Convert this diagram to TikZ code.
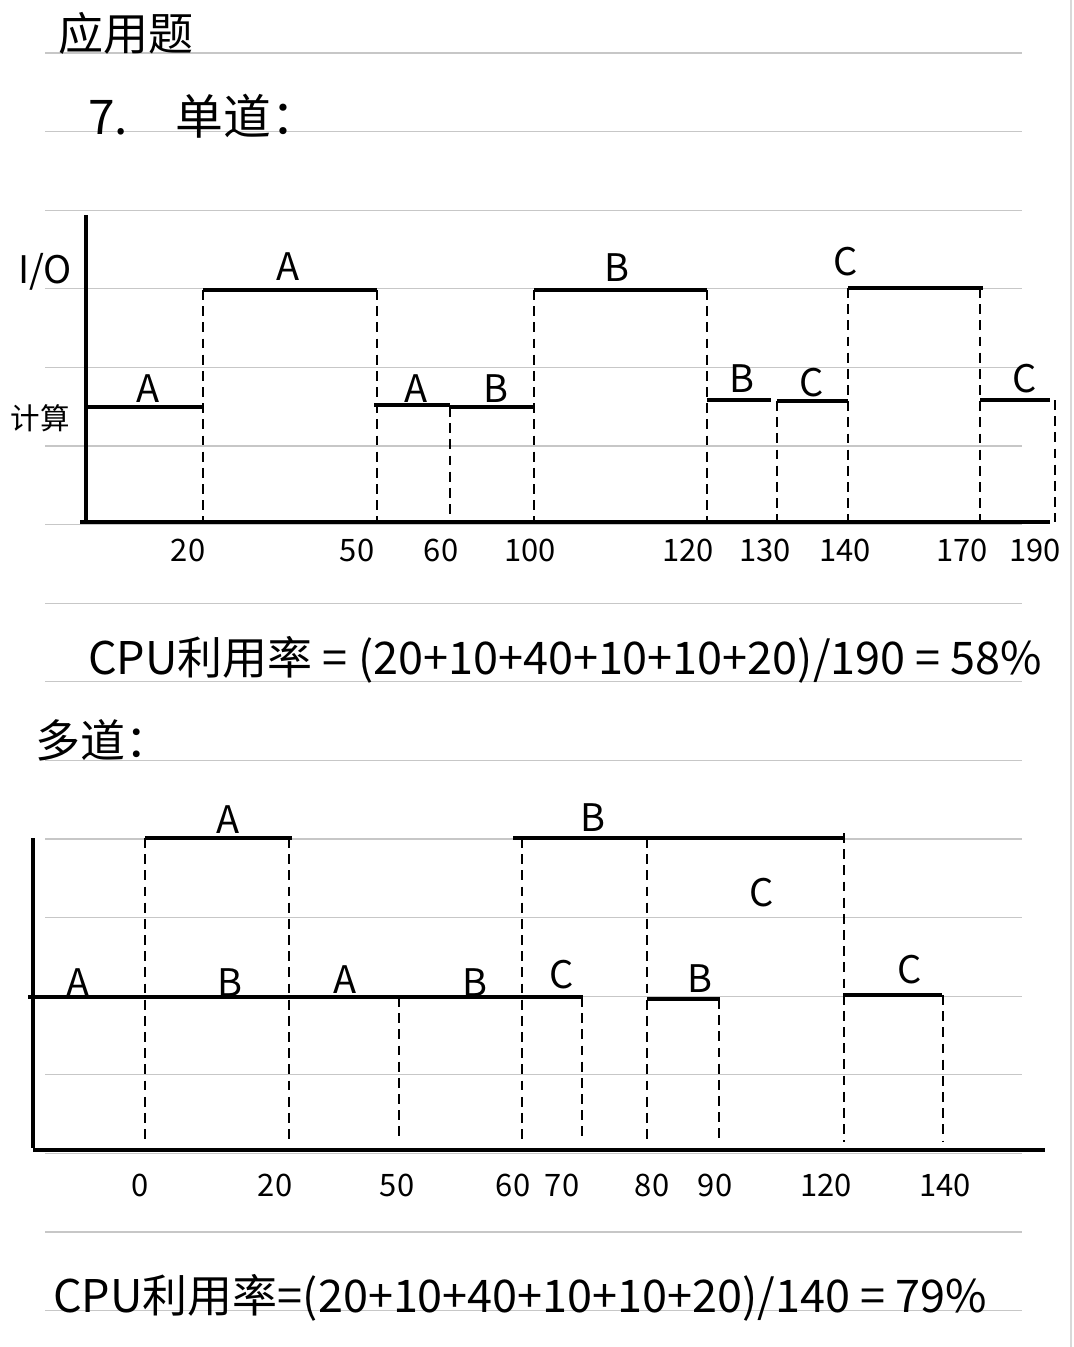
\documentclass[tikz,border=0pt]{standalone}
\usepackage{fontspec}
\setmainfont{Noto Sans CJK SC}
\usepackage{tikz}
\usetikzlibrary{positioning}

\begin{document}
\begin{tikzpicture}[x=0.025cm,y=-0.025cm,
    seg/.style={line width=2.2pt},
    guide/.style={line width=1.6pt,dash pattern=on 7pt off 4.5pt},
    ruling/.style={black!22,line width=0.8pt},
    lbl/.style={font=\fontsize{27}{30}\selectfont,inner sep=0pt},
    tick/.style={font=\fontsize{22}{24}\selectfont,inner sep=0pt},
    note/.style={font=\fontsize{32}{36}\selectfont,inner sep=0pt,anchor=west}]
  \useasboundingbox (0,0) rectangle (1073,1347);

  % Ruled paper
  \foreach \k in {0,...,16}
    \draw[ruling] (45,{53+78.6*\k}) -- (1022,{53+78.6*\k});
  \draw[black!15,line width=1pt] (1071,0) -- (1071,1347);

  % Headings
  \node[note] (title) at (58,33) {应用题};
  \node[note,font=\fontsize{34}{38}\selectfont] (single) at (88,116) {7.\quad 单道：};

  % Single program: axes
  \draw[seg] (86,215) -- (86,522);
  \draw[seg] (80,522) -- (1050,522);
  \node[lbl] (io) at (45,272) {I/O};
  \node[lbl,font=\fontsize{21}{24}\selectfont] (calc) at (40,418) {计算};

  % Single program: bars
  \draw[seg] (86,407) -- (203,407);
  \draw[seg] (203,290) -- (377,290);
  \draw[seg] (374,405) -- (450,405);
  \draw[seg] (450,407) -- (534,407);
  \draw[seg] (534,290) -- (707,290);
  \draw[seg] (707,400) -- (771,400);
  \draw[seg] (777,401) -- (848,401);
  \draw[seg] (848,288) -- (983,288);
  \draw[seg] (980,400) -- (1050,400);
  \foreach \x/\top in {203/290,377/290,450/407,534/290,707/290,777/401,848/288,980/288,1055/400}
    \draw[guide] (\x,\top) -- (\x,522);

  % Single program: labels
  \node[lbl] (sa1) at (148,389) {A};
  \node[lbl] (sa2) at (288,267) {A};
  \node[lbl] (sa3) at (416,389) {A};
  \node[lbl] (sb1) at (496,389) {B};
  \node[lbl] (sb2) at (617,268) {B};
  \node[lbl] (sb3) at (742,379) {B};
  \node[lbl] (sc1) at (812,383) {C};
  \node[lbl] (sc2) at (846,262) {C};
  \node[lbl] (sc3) at (1025,379) {C};
  \foreach \x/\t in {188/20,357/50,441/60,530/100,688/120,765/130,845/140,962/170,1035/190}
    \node[tick] (s\t) at (\x,550) {\t};

  \node[note] (rate1) at (88,660) {CPU利用率 = (20+10+40+10+10+20)/190 = 58\%};
  \node[note] (multi) at (35,740) {多道：};

  % Multi program: axes
  \draw[seg] (33,838) -- (33,1148);
  \draw[seg] (33,1150) -- (1045,1150);

  % Multi program: bars
  \draw[seg] (28,997) -- (583,997);
  \draw[seg] (145,838) -- (292,838);
  \draw[seg] (513,838) -- (845,838);
  \draw[seg] (647,999) -- (720,999);
  \draw[seg] (843,995) -- (942,995);
  \foreach \x/\top in {145/838,289/838,399/997,522/838,582/997,647/838,719/999,844/833,943/995}
    \draw[guide] (\x,\top) -- (\x,1142);

  % Multi program: labels
  \node[lbl] (ma1) at (228,820) {A};
  \node[lbl] (mb1) at (593,818) {B};
  \node[lbl] (mc1) at (762,893) {C};
  \node[lbl] (ma2) at (78,983) {A};
  \node[lbl] (mb2) at (230,983) {B};
  \node[lbl] (ma3) at (345,980) {A};
  \node[lbl] (mb3) at (475,983) {B};
  \node[lbl] (mc2) at (562,975) {C};
  \node[lbl] (mb4) at (700,979) {B};
  \node[lbl] (mc3) at (910,970) {C};
  \foreach \x/\t in {140/0,275/20,397/50,513/60,562/70,652/80,715/90,826/120,945/140}
    \node[tick] (m\t) at (\x,1185) {\t};

  \node[note] (rate2) at (53,1298) {CPU利用率=(20+10+40+10+10+20)/140 = 79\%};
\end{tikzpicture}
\end{document}
